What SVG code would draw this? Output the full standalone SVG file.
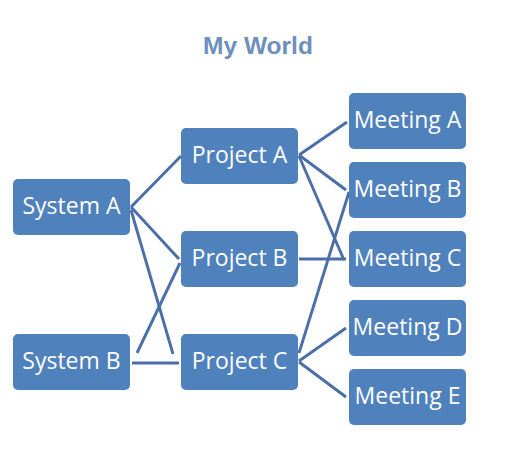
<svg xmlns="http://www.w3.org/2000/svg" width="517" height="466" viewBox="0 0 517 466">
<style>
.node rect{fill:#4F81BD;}
.node text{fill:#FFFFFF;font-family:"Open Sans","Liberation Sans",sans-serif;font-size:23px;text-anchor:middle;}
.title{fill:#6E8FBD;font-family:"Liberation Sans",Arial,sans-serif;font-size:24.5px;font-weight:bold;text-anchor:middle;}
#connectors line{stroke:#4A6FA8;stroke-width:2.9;stroke-linecap:butt;}
</style>
<rect width="517" height="466" fill="#FFFFFF"/>
<text class="title" x="258" y="54">My World</text>
<g id="connectors">
<line x1="131" y1="207" x2="181" y2="156"/>
<line x1="131" y1="207" x2="179" y2="259"/>
<line x1="131" y1="210" x2="173" y2="354"/>
<line x1="137" y1="353" x2="180" y2="263"/>
<line x1="132" y1="363" x2="179" y2="363"/>
<line x1="299" y1="155" x2="347" y2="122"/>
<line x1="299" y1="155" x2="346" y2="190"/>
<line x1="299" y1="156" x2="344" y2="260"/>
<line x1="299" y1="259" x2="346" y2="259"/>
<line x1="299" y1="353" x2="349" y2="192"/>
<line x1="299" y1="361" x2="346" y2="328"/>
<line x1="299" y1="362" x2="346" y2="397"/>
</g>
<g id="system-a" class="node"><rect x="13" y="179" width="117" height="56" rx="5"/><text x="71.5" y="214">System A</text></g>
<g id="system-b" class="node"><rect x="13" y="334" width="117" height="56" rx="5"/><text x="71.5" y="369">System B</text></g>
<g id="project-a" class="node"><rect x="181" y="128" width="117" height="56" rx="5"/><text x="239.5" y="163">Project A</text></g>
<g id="project-b" class="node"><rect x="181" y="231" width="117" height="56" rx="5"/><text x="239.5" y="266">Project B</text></g>
<g id="project-c" class="node"><rect x="181" y="334" width="117" height="56" rx="5"/><text x="239.5" y="369">Project C</text></g>
<g id="meeting-a" class="node"><rect x="349" y="93" width="117" height="56" rx="5"/><text x="407.5" y="128">Meeting A</text></g>
<g id="meeting-b" class="node"><rect x="349" y="162" width="117" height="56" rx="5"/><text x="407.5" y="197">Meeting B</text></g>
<g id="meeting-c" class="node"><rect x="349" y="231" width="117" height="56" rx="5"/><text x="407.5" y="266">Meeting C</text></g>
<g id="meeting-d" class="node"><rect x="349" y="300" width="117" height="56" rx="5"/><text x="407.5" y="335">Meeting D</text></g>
<g id="meeting-e" class="node"><rect x="349" y="369" width="117" height="56" rx="5"/><text x="407.5" y="404">Meeting E</text></g>
</svg>
